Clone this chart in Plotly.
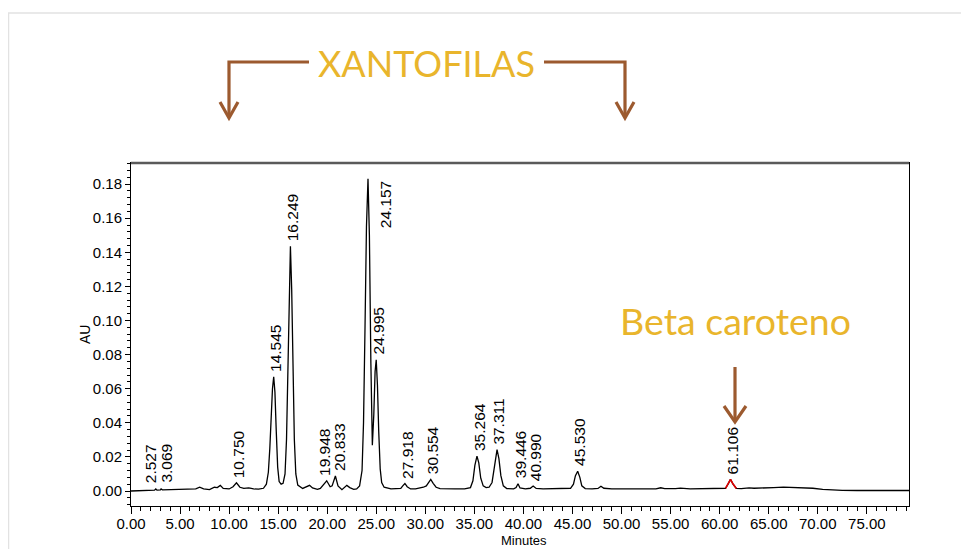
import plotly.graph_objects as go

# chromatogram trace (minutes, AU)
time_min = [
    0.0, 1.0, 2.0, 2.4, 2.527, 2.65, 3.0, 3.069, 3.2, 4.0, 5.0, 6.0, 6.6, 7.0, 7.4,
    8.0, 8.5, 8.8, 9.1, 9.4, 10.0, 10.4, 10.75, 11.1, 11.5, 12.0, 12.5, 13.0, 13.5,
    13.8, 14.0, 14.15, 14.3, 14.42, 14.545, 14.67, 14.8, 14.95, 15.1, 15.3, 15.5,
    15.7, 15.85, 16.0, 16.12, 16.249, 16.38, 16.5, 16.65, 16.8, 17.0, 17.5, 18.0,
    18.2, 18.5, 19.0, 19.3, 19.7, 19.948, 20.3, 20.5, 20.833, 21.1, 21.5, 21.8,
    22.0, 22.3, 22.7, 23.0, 23.3, 23.55, 23.7, 23.85, 24.0, 24.157, 24.3, 24.45,
    24.6, 24.75, 24.88, 24.995, 25.12, 25.25, 25.4, 25.55, 25.8, 26.5, 27.0, 27.5,
    27.7, 27.918, 28.15, 28.5, 29.0, 29.5, 29.8, 30.1, 30.35, 30.554, 30.8, 31.1,
    31.5, 32.0, 33.0, 34.0, 34.6, 34.85, 35.05, 35.264, 35.45, 35.65, 35.9, 36.2,
    36.5, 36.8, 37.05, 37.311, 37.5, 37.7, 37.95, 38.3, 39.0, 39.25, 39.446, 39.65,
    40.2, 40.7, 40.99, 41.3, 42.0, 43.0, 44.0, 44.8, 45.1, 45.3, 45.53, 45.75,
    45.95, 46.3, 47.0, 47.6, 47.9, 48.2, 49.0, 50.0, 52.0, 53.5, 54.0, 54.4, 55.5,
    56.0, 57.0, 59.0, 60.3, 60.6, 60.9, 61.106, 61.35, 61.7, 62.2, 63.0, 63.5,
    64.5, 65.5, 66.5, 67.5, 68.5, 69.5, 70.5, 71.5, 72.5, 74.0, 76.0, 78.0, 79.3,
]
absorbance = [
    0.0000, 0.0002, 0.0003, 0.0005, 0.0012, 0.0005, 0.0006, 0.0012, 0.0007, 0.0008,
    0.0008, 0.0009, 0.0012, 0.0022, 0.0012, 0.0008, 0.0022, 0.0020, 0.0033, 0.0015,
    0.0012, 0.0025, 0.0048, 0.0022, 0.0015, 0.0018, 0.0012, 0.0011, 0.0016, 0.0040,
    0.0110, 0.0250, 0.0450, 0.0600, 0.0670, 0.0580, 0.0360, 0.0140, 0.0055, 0.0040,
    0.0045, 0.0100, 0.0300, 0.0750, 0.1200, 0.1435, 0.1180, 0.0720, 0.0300, 0.0100,
    0.0035, 0.0015, 0.0028, 0.0033, 0.0018, 0.0010, 0.0015, 0.0045, 0.0060, 0.0025,
    0.0030, 0.0088, 0.0030, 0.0008, 0.0025, 0.0033, 0.0020, 0.0010, 0.0012, 0.0030,
    0.0120, 0.0400, 0.0950, 0.1550, 0.1832, 0.1500, 0.0750, 0.0268, 0.0450, 0.0700,
    0.0770, 0.0620, 0.0350, 0.0130, 0.0050, 0.0022, 0.0013, 0.0012, 0.0015, 0.0030,
    0.0044, 0.0025, 0.0012, 0.0012, 0.0016, 0.0022, 0.0030, 0.0055, 0.0068, 0.0045,
    0.0022, 0.0014, 0.0012, 0.0012, 0.0013, 0.0020, 0.0060, 0.0150, 0.0205, 0.0165,
    0.0075, 0.0030, 0.0020, 0.0022, 0.0050, 0.0160, 0.0243, 0.0190, 0.0090, 0.0030,
    0.0014, 0.0013, 0.0020, 0.0043, 0.0018, 0.0013, 0.0016, 0.0029, 0.0015, 0.0012,
    0.0012, 0.0012, 0.0016, 0.0040, 0.0090, 0.0116, 0.0080, 0.0030, 0.0014, 0.0012,
    0.0015, 0.0028, 0.0016, 0.0012, 0.0012, 0.0013, 0.0013, 0.0019, 0.0014, 0.0014,
    0.0017, 0.0012, 0.0012, 0.0013, 0.0016, 0.0045, 0.0068, 0.0042, 0.0015, 0.0014,
    0.0018, 0.0016, 0.0016, 0.0020, 0.0023, 0.0021, 0.0019, 0.0016, 0.0010, 0.0005,
    0.0004, 0.0003, 0.0003, 0.0002, 0.0003,
]

# integrated peaks (retention times, min)
peak_rt = [2.527, 3.069, 10.750, 14.545, 16.249, 19.948, 20.833, 24.157, 24.995,
           27.918, 30.554, 35.264, 37.311, 39.446, 40.990, 45.530, 61.106]

# beta carotene window drawn in red
beta_window = (60.5, 61.8)

# label nudges in px (x shift, y shift)
label_nudge = {2.527: (-5, 4), 3.069: (5, 4), 19.948: (-2, 3), 20.833: (4, 3),
               24.157: (17, -52)}

# the page body has an 8px margin, so the figure is drawn 8px in from the corner
OFF = 8
W, H = 969 - OFF, 549 - OFF
L, R, T, B = 131 - OFF, 60, 163 - OFF, 43


def px(x, y):
    # screen pixel of the 969x549 picture -> paper coordinates
    x, y = x - OFF, y - OFF
    return (x - L) / (W - L - R), (H - B - y) / (H - T - B)


fig = go.Figure()
fig.add_trace(go.Scatter(x=time_min, y=absorbance, mode="lines",
                         line=dict(color="black", width=1.3), hoverinfo="skip"))
bx = [t for t in time_min if beta_window[0] <= t <= beta_window[1]]
by = [a for t, a in zip(time_min, absorbance) if beta_window[0] <= t <= beta_window[1]]
fig.add_trace(go.Scatter(x=bx, y=by, mode="lines",
                         line=dict(color="#e00000", width=1.6), hoverinfo="skip"))

label_font = dict(family="Liberation Sans, Arial", size=15.5, color="black")
annotations = []
for rt in peak_rt:
    top = max(a for t, a in zip(time_min, absorbance) if abs(t - rt) < 0.15)
    dx, dy = label_nudge.get(rt, (2, 3))
    annotations.append(dict(x=rt, y=top, xref="x", yref="y", text=f"{rt:.3f}",
                            textangle=-90, showarrow=False, xanchor="center",
                            yanchor="bottom", xshift=dx, yshift=dy, font=label_font))

# axis titles placed by hand
title_font = dict(family="Liberation Sans, Arial", size=14, color="black")
cx, cy = px(85, 335)
annotations.append(dict(x=cx, y=cy, xref="paper", yref="paper", text="AU", textangle=-90,
                        showarrow=False, xanchor="center", yanchor="middle", font=title_font))
cx, cy = px(524, 540)
annotations.append(dict(x=cx, y=cy, xref="paper", yref="paper", text="Minutes",
                        showarrow=False, xanchor="center", yanchor="middle",
                        font=dict(title_font, size=13)))

gold = "#e9b52c"
brown = "#9c5a2f"
cx, cy = px(426, 63)
annotations.append(dict(x=cx, y=cy, xref="paper", yref="paper", text="XANTOFILAS",
                        showarrow=False, xanchor="center", yanchor="middle",
                        font=dict(family="Lato", size=36, color=gold)))
cx, cy = px(735, 320)
annotations.append(dict(x=cx, y=cy, xref="paper", yref="paper", text="Beta caroteno",
                        showarrow=False, xanchor="center", yanchor="middle",
                        font=dict(family="Lato", size=37.5, color=gold)))


def path(points):
    pts = [px(x, y) for x, y in points]
    return "M" + " L".join(f"{a:.5f},{b:.5f}" for a, b in pts)


shapes = []
x0, y0 = px(OFF + 0.5, 13)
x1, y1 = px(1000, 600)
shapes.append(dict(type="rect", xref="paper", yref="paper", x0=x0, y0=y0, x1=x1, y1=y1,
                   line=dict(color="#e2e2e2", width=1.5), layer="below"))
shapes.append(dict(type="line", xref="paper", yref="paper", x0=0, x1=1, y0=1, y1=1,
                   line=dict(color="#5a5a5a", width=2.5)))
arrow_lines = [
    [(309, 62), (229, 62), (229, 117)],
    [(544, 62), (625, 62), (625, 117)],
    [(735, 367), (735, 421)],
]
arrow_heads = [
    [(220, 102), (229, 118), (238, 102)],
    [(616, 102), (625, 118), (634, 102)],
    [(724, 406), (735, 422), (746, 406)],
]
for pts in arrow_lines + arrow_heads:
    shapes.append(dict(type="path", xref="paper", yref="paper", path=path(pts),
                       line=dict(color=brown, width=3.2)))

axis_font = dict(family="Liberation Sans, Arial", size=15, color="black")
fig.update_layout(
    width=W, height=H,
    margin=dict(l=L, r=R, t=T, b=B, autoexpand=False),
    paper_bgcolor="white", plot_bgcolor="white",
    showlegend=False,
    annotations=annotations,
    shapes=shapes,
    xaxis=dict(
        range=[0, 79.3], dtick=5, tick0=0, tickformat=".2f", automargin=False,
        ticks="outside", ticklen=7, tickcolor="black", tickwidth=1,
        minor=dict(dtick=1, ticks="outside", ticklen=4, tickcolor="black"),
        ticklabelstandoff=-3,
        showgrid=False, zeroline=False, showline=True, linecolor="black",
        linewidth=1, mirror=True, tickfont=axis_font,
    ),
    yaxis=dict(
        range=[-0.0088, 0.1924], dtick=0.02, tick0=0, tickformat=".2f", automargin=False,
        ticks="outside", ticklen=5, tickcolor="black", tickwidth=1,
        minor=dict(dtick=0.004, ticks="outside", ticklen=3, tickcolor="black"),
        showgrid=False, zeroline=False, showline=True, linecolor="black",
        linewidth=1, mirror=True, tickfont=axis_font,
    ),
)

fig.write_html("out.html")
